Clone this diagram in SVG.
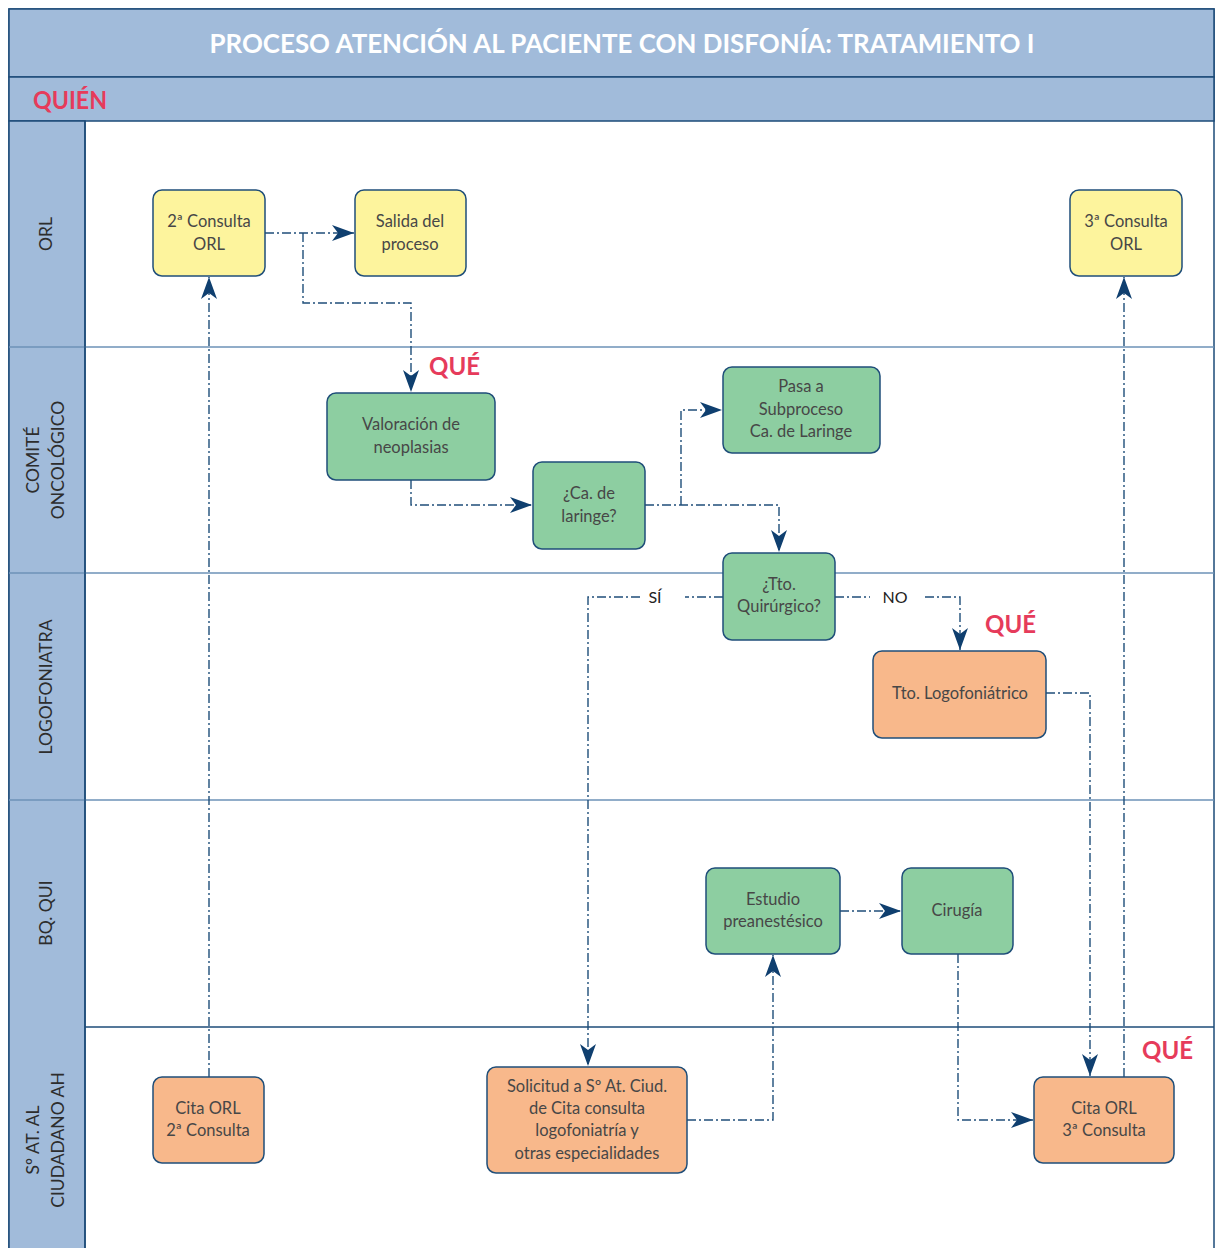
<svg xmlns="http://www.w3.org/2000/svg" width="1217" height="1248" viewBox="0 0 1217 1248">
<defs>
<style>
.band{fill:#a1bbda;stroke:#1d4b78;stroke-width:1.5}
.lane{stroke:#6d93b8;stroke-width:1.5;fill:none}
.box{stroke:#1f4e79;stroke-width:1.5}
.y{fill:#fdf49d}
.g{fill:#8dcea1}
.o{fill:#f8b88b}
.t{font-family:Lato,"Open Sans","Liberation Sans",sans-serif;font-size:16.5px;fill:#474747;text-anchor:middle}
.lbl{font-family:Lato,"Open Sans","Liberation Sans",sans-serif;font-size:17.5px;fill:#2d2d2d;text-anchor:middle}
.que{font-family:Lato,"Open Sans","Liberation Sans",sans-serif;font-size:24px;font-weight:bold;fill:#e63b5b}
.c{fill:none;stroke:#1f4e79;stroke-width:1.4;stroke-dasharray:9 3 2 3}
.ca{marker-end:url(#ah)}
</style>
<marker id="ah" markerUnits="userSpaceOnUse" markerWidth="22" markerHeight="16" refX="22" refY="8" orient="auto">
<path d="M0,0 L22,8 L0,16 L6,8 Z" fill="#0f3f6f"/>
</marker>
</defs>
<rect width="1217" height="1248" fill="#ffffff"/>
<g id="frame">
<rect x="9" y="9" width="1205" height="1250" fill="#ffffff" stroke="#1d4b78" stroke-width="1.5"/>
<rect class="band" x="9" y="9" width="1205" height="68"/>
<rect class="band" x="9" y="77" width="1205" height="44"/>
<rect class="band" x="9" y="121" width="76" height="1140"/>
<text x="622" y="53" font-family="Lato,'Open Sans','Liberation Sans',sans-serif" font-size="26" font-weight="bold" fill="#ffffff" text-anchor="middle" textLength="825" lengthAdjust="spacingAndGlyphs">PROCESO ATENCIÓN AL PACIENTE CON DISFONÍA: TRATAMIENTO I</text>
<text class="que" x="33" y="109" textLength="74" lengthAdjust="spacingAndGlyphs">QUIÉN</text>
<path class="lane" d="M9,347 H1214 M9,573 H1214 M9,800 H1214"/>
<line x1="85" y1="121" x2="85" y2="1260" stroke="#1d4b78" stroke-width="1.5"/>
<line x1="85" y1="1027" x2="1214" y2="1027" stroke="#1d4b78" stroke-width="1.5"/>
<text class="lbl" transform="translate(52,234) rotate(-90)">ORL</text>
<text class="lbl" transform="translate(39,460) rotate(-90)">COMITÉ</text>
<text class="lbl" transform="translate(64,460) rotate(-90)">ONCOLÓGICO</text>
<text class="lbl" transform="translate(52,687) rotate(-90)">LOGOFONIATRA</text>
<text class="lbl" transform="translate(52,913) rotate(-90)">BQ. QUI</text>
<text class="lbl" transform="translate(39,1140) rotate(-90)">Sº AT. AL</text>
<text class="lbl" transform="translate(64,1140) rotate(-90)">CIUDADANO AH</text>
<text class="que" x="429" y="375">QUÉ</text>
<text class="que" x="985" y="633">QUÉ</text>
<text class="que" x="1142" y="1059">QUÉ</text>
</g>
<g id="connectors">
<path class="c ca" d="M209,1077 V277"/>
<path class="c ca" d="M265,233 H354"/>
<path class="c ca" d="M303,233 V303 H411 V392"/>
<path class="c ca" d="M411,480 V505 H532"/>
<path class="c ca" d="M645,505 H779 V552"/>
<path class="c ca" d="M681,505 V410 H722"/>
<path class="c" d="M723,597 H685"/>
<path class="c ca" d="M640,597 H588 V1066"/>
<text x="655" y="603" font-family="Lato,'Open Sans','Liberation Sans',sans-serif" font-size="16" fill="#222" text-anchor="middle">SÍ</text>
<path class="c" d="M835,597 H870"/>
<path class="c ca" d="M925,597 H960 V650"/>
<text x="895" y="603" font-family="Lato,'Open Sans','Liberation Sans',sans-serif" font-size="16" fill="#222" text-anchor="middle">NO</text>
<path class="c ca" d="M1046,693 H1090 V1076"/>
<path class="c ca" d="M1124,1077 V277"/>
<path class="c ca" d="M687,1120 H773 V955"/>
<path class="c ca" d="M840,911 H901"/>
<path class="c ca" d="M958,954 V1120 H1033"/>
</g>
<g id="n_consulta2">
<rect class="box y" x="153" y="190" width="112" height="86" rx="9"/>
<text class="t" x="209" y="227">2ª Consulta</text>
<text class="t" x="209" y="250">ORL</text>
</g>
<g id="n_salida">
<rect class="box y" x="355" y="190" width="111" height="86" rx="9"/>
<text class="t" x="410" y="227">Salida del</text>
<text class="t" x="410" y="250">proceso</text>
</g>
<g id="n_consulta3">
<rect class="box y" x="1070" y="190" width="112" height="86" rx="9"/>
<text class="t" x="1126" y="227">3ª Consulta</text>
<text class="t" x="1126" y="250">ORL</text>
</g>
<g id="n_valoracion">
<rect class="box g" x="327" y="393" width="168" height="87" rx="9"/>
<text class="t" x="411" y="430">Valoración de</text>
<text class="t" x="411" y="453">neoplasias</text>
</g>
<g id="n_ca">
<rect class="box g" x="533" y="462" width="112" height="87" rx="9"/>
<text class="t" x="589" y="499">¿Ca. de</text>
<text class="t" x="589" y="522">laringe?</text>
</g>
<g id="n_pasa">
<rect class="box g" x="723" y="367" width="157" height="86" rx="9"/>
<text class="t" x="801" y="392">Pasa a</text>
<text class="t" x="801" y="415">Subproceso</text>
<text class="t" x="801" y="437">Ca. de Laringe</text>
</g>
<g id="n_tto">
<rect class="box g" x="723" y="553" width="112" height="87" rx="9"/>
<text class="t" x="779" y="590">¿Tto.</text>
<text class="t" x="779" y="612">Quirúrgico?</text>
</g>
<g id="n_logo">
<rect class="box o" x="873" y="651" width="173" height="87" rx="9"/>
<text class="t" x="960" y="699">Tto. Logofoniátrico</text>
</g>
<g id="n_estudio">
<rect class="box g" x="706" y="868" width="134" height="86" rx="9"/>
<text class="t" x="773" y="905">Estudio</text>
<text class="t" x="773" y="927">preanestésico</text>
</g>
<g id="n_cirugia">
<rect class="box g" x="902" y="868" width="111" height="86" rx="9"/>
<text class="t" x="957" y="916">Cirugía</text>
</g>
<g id="n_cita2">
<rect class="box o" x="153" y="1077" width="111" height="86" rx="9"/>
<text class="t" x="208" y="1114">Cita ORL</text>
<text class="t" x="208" y="1136">2ª Consulta</text>
</g>
<g id="n_solicitud">
<rect class="box o" x="487" y="1067" width="200" height="106" rx="9"/>
<text class="t" x="587" y="1092">Solicitud a Sº At. Ciud.</text>
<text class="t" x="587" y="1114">de Cita consulta</text>
<text class="t" x="587" y="1136">logofoniatría y</text>
<text class="t" x="587" y="1159">otras especialidades</text>
</g>
<g id="n_cita3">
<rect class="box o" x="1034" y="1077" width="140" height="86" rx="9"/>
<text class="t" x="1104" y="1114">Cita ORL</text>
<text class="t" x="1104" y="1136">3ª Consulta</text>
</g>
</svg>
